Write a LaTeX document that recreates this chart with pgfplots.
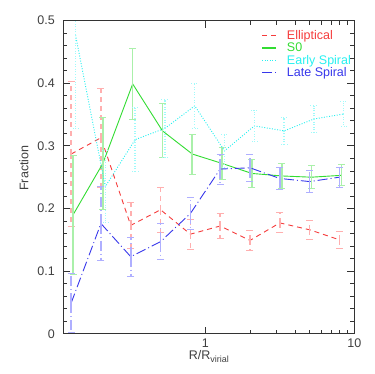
\documentclass[border=0pt]{standalone}
\usepackage{pgfplots}
\pgfplotsset{compat=1.18}
\usepackage{fontspec}
\setmainfont{Liberation Sans}
\definecolor{cred}{RGB}{245,60,60}
\definecolor{cgreen}{RGB}{50,220,50}
\definecolor{ccyan}{RGB}{40,240,240}
\definecolor{cblue}{RGB}{55,55,235}
\definecolor{lred}{RGB}{255,175,175}
\definecolor{lgreen}{RGB}{170,240,170}
\definecolor{lcyan}{RGB}{160,250,250}
\definecolor{lblue}{RGB}{175,175,255}
\begin{document}
\begin{tikzpicture}
\useasboundingbox (0,0) rectangle (374pt,374pt);
\begin{axis}[
  at={(63.3pt,40.3pt)}, anchor=south west,
  scale only axis, width=291pt, height=313pt,
  xmode=log, xmin=0.1115, xmax=10, ymin=0, ymax=0.5,
  xtick={1,10}, xticklabels={1,10},
  ytick={0,0.1,0.2,0.3,0.4,0.5},
  yticklabels={0,0.1,0.2,0.3,0.4,0.5},
  minor y tick num=4,
  tick align=inside,
  major tick length=7pt, minor tick length=4pt,
  axis line style={black!80, line width=0.8pt},
  every tick/.style={black!80, line width=0.8pt},
  tick label style={font=\fontsize{12.5}{14}\selectfont, text=black!75},
  /pgf/number format/assume math mode=true,
  yticklabel style={xshift=-5pt},
  xticklabel style={yshift=-2pt},
  xlabel={R/R\raisebox{-0.45ex}{\fontsize{9}{10}\selectfont virial}},
  ylabel={Fraction},
  label style={font=\fontsize{12.5}{14}\selectfont, text=black!75},
  xlabel style={at={(axis description cs:0.5,-0.084)}, anchor=base},
  ylabel style={at={(axis description cs:-0.135,0.529)}, anchor=center},
  legend cell align=left,
  legend style={draw=none, fill=none, at={(rel axis cs:0.68,0.972)}, anchor=north west,
    font=\fontsize{12.5}{11}\selectfont, row sep=0pt, inner sep=0pt,
    nodes={inner sep=0.5pt, text height=9.3pt, text depth=2pt}},
  legend image code/.code={\draw[#1, line width=1.3pt] (0pt,0pt) -- (14pt,0pt); \path (24pt,0pt);},
  error bars/y dir=both, error bars/y explicit,
]
% Elliptical
\addplot[cred, line width=0.9pt, dash pattern=on 5pt off 4pt,
  error bars/error bar style={lred, line width=1.6pt, dash pattern=on 5pt off 4pt},
  error bars/error mark options={lred, line width=1pt, mark size=3.5pt, rotate=90, solid}]
 table[x=x, y=y, y error=e] {
x y e
0.1259 0.287 0.116
0.1995 0.313 0.079
0.3162 0.173 0.037
0.5012 0.198 0.036
0.7943 0.159 0.024
1.2589 0.172 0.020
1.9953 0.149 0.016
3.1623 0.177 0.016
5.0119 0.166 0.015
7.9433 0.150 0.014
};
\addlegendentry{\textcolor{cred}{Elliptical}}
% S0
\addplot[draw=cgreen, color=cgreen, line width=0.9pt, solid,
  error bars/error bar style={lgreen, line width=1.6pt},
  error bars/error mark options={lgreen, line width=1pt, mark size=3.5pt, rotate=90, solid}]
 table[x=x, y=y, y error=e] {
x y e
0.1297 0.190 0.095
0.2055 0.272 0.074
0.3257 0.399 0.057
0.5162 0.324 0.043
0.8181 0.287 0.032
1.2967 0.272 0.026
2.0552 0.256 0.022
3.2572 0.252 0.020
5.1623 0.250 0.018
8.1816 0.253 0.017
};
\addlegendentry{\textcolor{cgreen}{S0}}
% Early Spiral
\addplot[ccyan, line width=0.9pt, dash pattern=on 1pt off 1.6pt,
  error bars/error bar style={lcyan, line width=1.4pt, dash pattern=on 1pt off 1.6pt},
  error bars/error mark options={lcyan, line width=1pt, mark size=3.5pt, rotate=90, dash pattern=on 1pt off 1.6pt}]
 table[x=x, y=y, y error=e] {
x y e
0.1347 0.477 0.149
0.2135 0.235 0.057
0.3383 0.310 0.051
0.5363 0.328 0.046
0.8499 0.364 0.036
1.3470 0.292 0.026
2.1350 0.332 0.025
3.3837 0.324 0.021
5.3627 0.343 0.021
8.4993 0.351 0.020
};
\addlegendentry{\textcolor{ccyan}{Early Spiral}}
% Late Spiral
\addplot[cblue, line width=0.9pt, dash pattern=on 10pt off 3pt on 1pt off 3pt,
  error bars/error bar style={lblue, line width=1.6pt, dash pattern=on 10pt off 3pt on 1pt off 3pt},
  error bars/error mark options={lblue, line width=1pt, mark size=3.5pt, rotate=90, solid}]
 table[x=x, y=y, y error=e] {
x y e
0.1259 0.049 0.047
0.1995 0.176 0.059
0.3162 0.123 0.031
0.5012 0.147 0.029
0.7943 0.192 0.026
1.2589 0.263 0.024
1.9953 0.265 0.022
3.1623 0.248 0.018
5.0119 0.243 0.017
7.9433 0.250 0.016
};
\addlegendentry{\textcolor{cblue}{Late Spiral}}
\end{axis}
\end{tikzpicture}
\end{document}
